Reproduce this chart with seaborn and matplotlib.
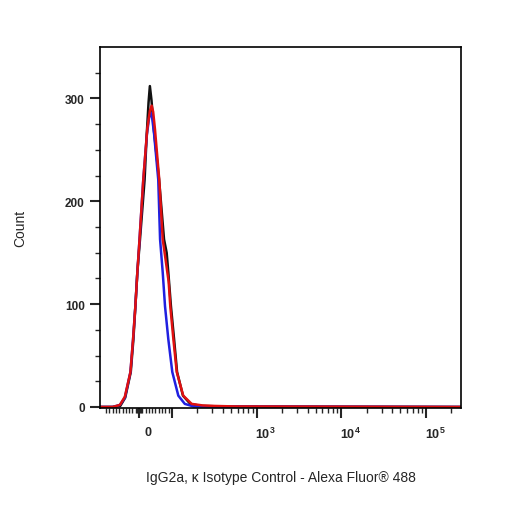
import numpy as np
import pandas as pd
import matplotlib
matplotlib.use("Agg")
import matplotlib.pyplot as plt
import matplotlib.transforms as mtransforms
import seaborn as sns

# histogram outlines (x in fluorescence units, y = count)
black_x = [-118, -80, -57, -42, -25, -17, -11, -5, 3, 17, 23, 29, 33, 38, 45, 61, 76, 84, 89, 97, 106, 115, 135, 165, 220, 400, 260000]
black_y = [0, 0, 1, 9, 34, 66, 98, 131, 163, 221, 262, 296, 312, 298, 270, 221, 163, 150, 131, 98, 66, 34, 11, 3, 1, 0.5, 0]

blue_x = [-118, -80, -58, -43, -26, -18, -11, -5, 1, 13, 24, 31, 35.5, 40, 46, 58.5, 64, 72, 79, 89, 101, 119, 142, 180, 260000]
blue_y = [0, 0, 2, 9, 34, 66, 98, 131, 160, 221, 265, 282, 286, 281, 265, 221, 163, 131, 98, 66, 34, 11, 3, 0.5, 0]

red_x = [-118, -80, -58, -43, -26, -18, -11, -5, 1, 13, 25, 33, 38.5, 43, 48.5, 61.5, 72, 80, 86, 90, 95, 104, 114, 136, 171, 230, 320, 566, 260000]
red_y = [0, 0, 2, 10, 34, 66, 98, 131, 160, 221, 270, 288, 293, 287, 270, 221, 163, 145, 131, 122, 98, 66, 34, 11, 3, 1.5, 1, 0.5, 0]

series = {"black": (black_x, black_y), "blue": (blue_x, blue_y), "red": (red_x, red_y)}
colors = {"black": "#111111", "blue": "#2020e0", "red": "#e01010"}

xtick_major = [0, 100, 1000, 10000, 100000]
xtick_labels = ["0", "", r"$\mathbf{10^{3}}$", r"$\mathbf{10^{4}}$", r"$\mathbf{10^{5}}$"]
ytick_major = [0, 100, 200, 300]

frames = []
for name, (xs, ys) in series.items():
    frames.append(pd.DataFrame({"x": xs, "count": ys, "sample": name}))
df = pd.concat(frames, ignore_index=True)

sns.set_style("ticks")
plt.rcParams["font.family"] = ["Liberation Sans", "DejaVu Sans"]
plt.rcParams["mathtext.fontset"] = "custom"
plt.rcParams["mathtext.rm"] = "Liberation Sans"
plt.rcParams["mathtext.bf"] = "Liberation Sans:bold"

fig = plt.figure(figsize=(5.06, 5.06), dpi=100)
ax = fig.add_axes([100 / 506, 97 / 506, 361 / 506, 361 / 506])

sns.lineplot(data=df, x="x", y="count", hue="sample", palette=colors,
             hue_order=["black", "blue", "red"], sort=False, estimator=None,
             units="sample", linewidth=1.8, legend=False, ax=ax)

ax.set_xscale("symlog", linthresh=100, linscale=0.35)
ax.set_xlim(-118, 2.6e5)
ax.set_ylim(-1, 350)

minor = list(range(-100, 100, 10)) + [-6, -3, 3, 6]
for dec in [100, 1000, 10000, 100000]:
    minor += [dec * k for k in range(2, 10)]
minor = [m for m in minor if m < 2.6e5]
ax.set_xticks(xtick_major)
ax.set_xticklabels(xtick_labels, fontsize=9, fontweight="bold")
ax.set_xticks(minor, minor=True)
ax.tick_params(axis="x", which="major", length=7, width=1.5, pad=6)
ax.tick_params(axis="x", which="minor", length=3.5, width=1.0)

ax.set_yticks(ytick_major)
ax.set_yticklabels([str(v) for v in ytick_major], fontsize=8.5, fontweight="bold")
ax.set_yticks(np.arange(25, 350, 25), minor=True)
ax.tick_params(axis="y", which="major", length=7, width=1.5, pad=4)
ax.tick_params(axis="y", which="minor", length=3.5, width=1.0)

offset = mtransforms.ScaledTranslation(9 / 100, 0, fig.dpi_scale_trans)
for lab in ax.get_xticklabels():
    lab.set_transform(lab.get_transform() + offset)

for sp in ax.spines.values():
    sp.set_linewidth(1.2)
    sp.set_color("black")

ax.set_xlabel("IgG2a, κ Isotype Control - Alexa Fluor® 488", fontsize=10, labelpad=21)
ax.set_ylabel("Count", fontsize=10, labelpad=27)

fig.savefig("out.png", dpi=100)
